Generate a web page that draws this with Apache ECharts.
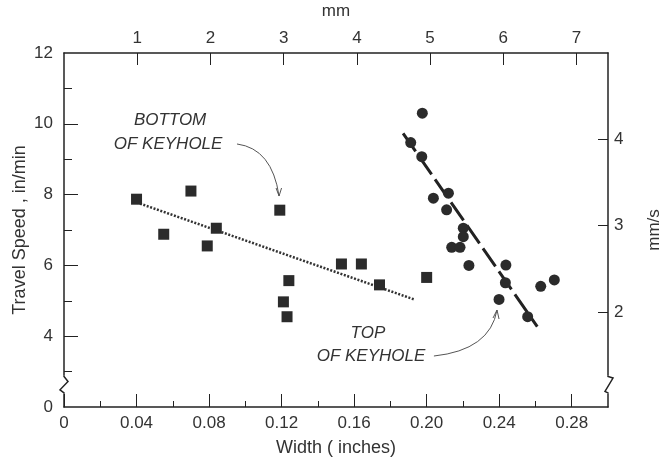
<!DOCTYPE html>
<html><head><meta charset="utf-8">
<script src="https://cdn.jsdelivr.net/npm/echarts@6/dist/echarts.min.js"></script>
<style>html,body{margin:0;padding:0;background:#fff}#c{width:665px;height:462px}</style>
</head><body><div id="c"></div>
<script>
// ---- data ----
const widthMajorTicks = [0, 0.04, 0.08, 0.12, 0.16, 0.20, 0.24, 0.28];
const widthMinorTicks = [0.02, 0.06, 0.10, 0.14, 0.18, 0.22, 0.26];
const speedMajorTicks = [2, 4, 6, 8, 10, 12];   // value 2 is drawn as "0" (broken axis)
const speedMinorTicks = [3, 5, 7, 9, 11];
const mmTicks = [1, 2, 3, 4, 5, 6, 7];
const mmsTicks = [2, 3, 4];

const bottomX = [0.040, 0.055, 0.070, 0.079, 0.084, 0.119, 0.121, 0.123, 0.124, 0.153, 0.164, 0.174, 0.200];
const bottomY = [7.87, 6.88, 8.10, 6.55, 7.05, 7.56, 4.97, 4.55, 5.57, 6.04, 6.04, 5.45, 5.66];
const topX = [0.1976, 0.1912, 0.1973, 0.2037, 0.2120, 0.2110, 0.2202, 0.2202, 0.2138, 0.2184, 0.2233, 0.2437, 0.2434, 0.2399, 0.2557, 0.2629, 0.2704];
const topY = [10.30, 9.47, 9.07, 7.90, 8.04, 7.57, 7.05, 6.81, 6.51, 6.51, 6.00, 6.01, 5.51, 5.04, 4.55, 5.41, 5.59];
const bottomFitX = [0.040, 0.193];
const bottomFitY = [7.78, 5.04];
const topFitX = [0.187, 0.261];
const topFitY = [9.73, 4.27];

// ---- chart ----
const FONT = 'Liberation Sans';
const TXT = '#333';
const LINE = '#222';
const zip = (a, b) => a.map((v, i) => [v, b[i]]);
const chart = echarts.init(document.getElementById('c'));

const labelStyle = { color: TXT, fontFamily: FONT, fontSize: 17 };
const axLine = { show: true, onZero: false, lineStyle: { color: LINE, width: 1.5 } };
const noLine = { show: false, onZero: false };

const option = {
  backgroundColor: '#fff',
  animation: false,
  grid: { left: 64, top: 53, width: 544, height: 354, containLabel: false, outerBoundsMode: 'none' },
  xAxis: [
    { type: 'value', position: 'bottom', min: 0, max: 0.30,
      name: 'Width ( inches)', nameLocation: 'middle', nameGap: 32,
      nameTextStyle: { color: TXT, fontFamily: FONT, fontSize: 18 },
      axisLine: axLine,
      axisTick: { show: true, inside: true, length: 13, customValues: widthMajorTicks, lineStyle: { color: LINE, width: 1 } },
      axisLabel: Object.assign({ margin: 8, customValues: widthMajorTicks,
        formatter: v => v === 0 ? '0' : v.toFixed(2) }, labelStyle),
      splitLine: { show: false } },
    { type: 'value', position: 'bottom', min: 0, max: 0.30,
      axisLine: noLine,
      axisTick: { show: true, inside: true, length: 6, customValues: widthMinorTicks, lineStyle: { color: LINE, width: 1 } },
      axisLabel: { show: false }, splitLine: { show: false } },
    { type: 'value', position: 'top', min: 0, max: 7.43,
      name: 'mm', nameLocation: 'middle', nameGap: 33,
      nameTextStyle: { color: TXT, fontFamily: FONT, fontSize: 17 },
      axisLine: axLine,
      axisTick: { show: true, inside: true, length: 12, customValues: mmTicks, lineStyle: { color: LINE, width: 1 } },
      axisLabel: Object.assign({ margin: 6, customValues: mmTicks }, labelStyle),
      splitLine: { show: false } }
  ],
  yAxis: [
    { type: 'value', position: 'left', min: 2, max: 12,
      name: 'Travel Speed , in/min', nameLocation: 'middle', nameGap: 35, nameRotate: 90,
      nameMoveOverlap: false,
      nameTextStyle: { color: TXT, fontFamily: FONT, fontSize: 18 },
      axisLine: axLine,
      axisTick: { show: true, inside: true, length: 14, customValues: [4, 6, 8, 10], lineStyle: { color: LINE, width: 1 } },
      axisLabel: Object.assign({ margin: 11, customValues: speedMajorTicks,
        formatter: v => v === 2 ? '0' : String(v) }, labelStyle),
      splitLine: { show: false } },
    { type: 'value', position: 'left', min: 2, max: 12,
      axisLine: noLine,
      axisTick: { show: true, inside: true, length: 8, customValues: speedMinorTicks, lineStyle: { color: LINE, width: 1 } },
      axisLabel: { show: false }, splitLine: { show: false } },
    { type: 'value', position: 'right', min: 0.9, max: 5.0,
      name: 'mm/s', nameLocation: 'middle', nameGap: 38, nameRotate: 90,
      nameTextStyle: { color: TXT, fontFamily: FONT, fontSize: 17 },
      axisLine: axLine,
      axisTick: { show: true, inside: true, length: 10, customValues: mmsTicks, lineStyle: { color: LINE, width: 1 } },
      axisLabel: Object.assign({ margin: 6, customValues: mmsTicks }, labelStyle),
      splitLine: { show: false } }
  ],
  series: [
    { type: 'line', data: zip(bottomFitX, bottomFitY), symbol: 'none', z: 2,
      lineStyle: { color: '#333', width: 2.5, type: [2, 1.6] } },
    { type: 'line', data: zip(topFitX, topFitY), symbol: 'none', z: 2,
      lineStyle: { color: '#222', width: 3, type: [22, 6] } },
    { type: 'scatter', data: zip(bottomX, bottomY), symbol: 'rect', symbolSize: 11, z: 3,
      itemStyle: { color: '#2b2b2b', opacity: 1 } },
    { type: 'scatter', data: zip(topX, topY), symbol: 'circle', symbolSize: 11, z: 3,
      itemStyle: { color: '#2b2b2b', opacity: 1 } }
  ]
};
chart.setOption(option);

// annotations (positioned in data space, converted to pixels)
const P = (x, y) => chart.convertToPixel({ xAxisIndex: 0, yAxisIndex: 0 }, [x, y]);
const noteStyle = { fill: TXT, font: 'italic 17px "Liberation Sans"', textAlign: 'center', textVerticalAlign: 'middle' };
const t1 = P(0.0585, 10.11), t2 = P(0.0574, 9.43), t3 = P(0.1676, 4.09), t4 = P(0.1693, 3.44);
const a1s = P(0.0954, 9.43), a1c = P(0.1147, 9.30), a1e = P(0.1186, 7.96);
const a2s = P(0.2040, 3.44), a2c = P(0.2349, 3.61), a2e = P(0.2388, 4.74);
const lb1 = P(0, 2.86), lb2 = P(0, 2.40);
const rb1 = P(0.30, 2.86), rb2 = P(0.30, 2.40);
const arrowStyle = { stroke: '#555', lineWidth: 1, fill: null };
const axisStyle = { stroke: LINE, lineWidth: 1.5, fill: null };

chart.setOption({
  graphic: [
    { type: 'text', z: 100, x: t1[0], y: t1[1], style: Object.assign({ text: 'BOTTOM' }, noteStyle) },
    { type: 'text', z: 100, x: t2[0], y: t2[1], style: Object.assign({ text: 'OF KEYHOLE' }, noteStyle) },
    { type: 'text', z: 100, x: t3[0], y: t3[1], style: Object.assign({ text: 'TOP' }, noteStyle) },
    { type: 'text', z: 100, x: t4[0], y: t4[1], style: Object.assign({ text: 'OF KEYHOLE' }, noteStyle) },
    { type: 'bezierCurve', z: 100, shape: { x1: a1s[0], y1: a1s[1], cpx1: a1c[0], cpy1: a1c[1], x2: a1e[0], y2: a1e[1] }, style: arrowStyle },
    { type: 'polyline', z: 100, shape: { points: [[a1e[0] - 3, a1e[1] - 8], [a1e[0], a1e[1]], [a1e[0] + 2.5, a1e[1] - 8]] }, style: arrowStyle },
    { type: 'bezierCurve', z: 100, shape: { x1: a2s[0], y1: a2s[1], cpx1: a2c[0], cpy1: a2c[1], x2: a2e[0], y2: a2e[1] }, style: arrowStyle },
    { type: 'polyline', z: 100, shape: { points: [[a2e[0] - 4, a2e[1] + 8], [a2e[0], a2e[1]], [a2e[0] + 2, a2e[1] + 9]] }, style: arrowStyle },
    // axis breaks
    { type: 'rect', z: 100, shape: { x: lb1[0] - 2, y: lb1[1] - 1, width: 4, height: lb2[1] - lb1[1] + 2 }, style: { fill: '#fff' } },
    { type: 'polyline', z: 101, shape: { points: [[lb1[0], lb1[1] - 1], [lb1[0], lb1[1]], [lb1[0] + 4, lb1[1] + 5], [lb1[0] - 4, lb2[1] - 3], [lb1[0], lb2[1]], [lb1[0], lb2[1] + 1]] }, style: axisStyle },
    { type: 'rect', z: 100, shape: { x: rb1[0] - 2, y: rb1[1] - 1, width: 4, height: rb2[1] - rb1[1] + 2 }, style: { fill: '#fff' } },
    { type: 'polyline', z: 101, shape: { points: [[rb1[0], rb1[1] - 1], [rb1[0], rb1[1]], [rb1[0] + 5, rb1[1] + 1.5], [rb1[0] - 3, rb2[1] - 1.5], [rb1[0], rb2[1]], [rb1[0], rb2[1] + 1]] }, style: axisStyle }
  ]
});
</script>
</body></html>
